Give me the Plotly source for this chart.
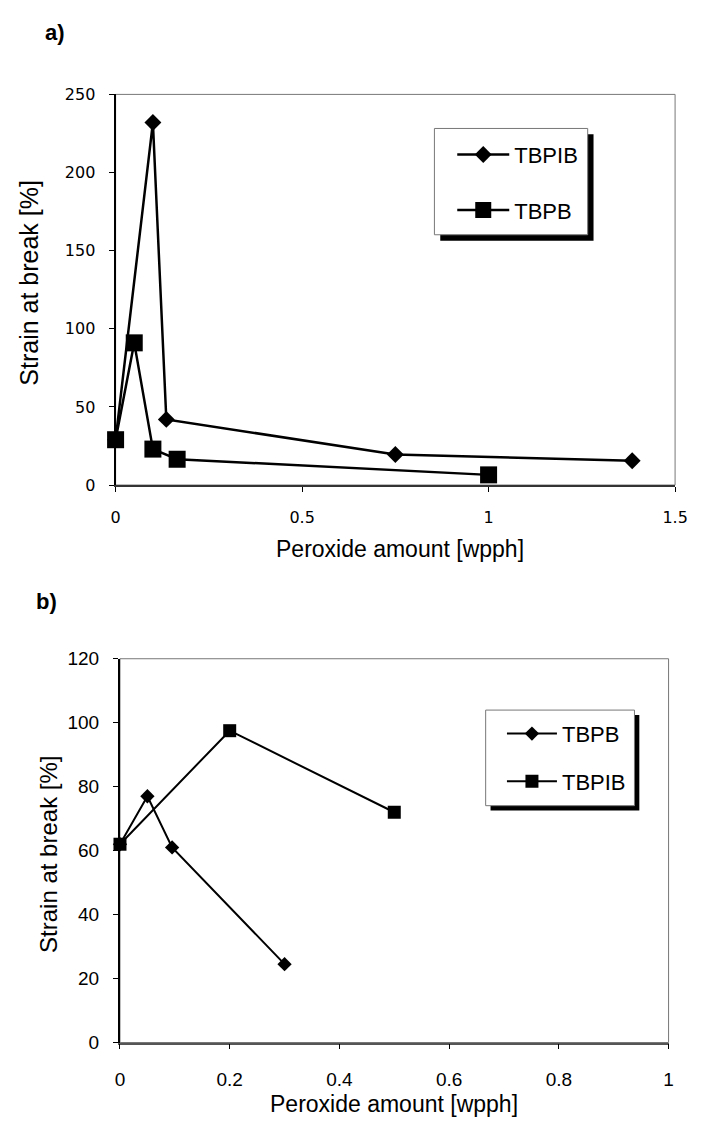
import plotly.graph_objects as go

# ---------------- data ----------------
# Panel a)
a_tbpib_x = [0, 0.1, 0.136, 0.75, 1.385]
a_tbpib_y = [29, 232, 42, 19.5, 15.5]
a_tbpb_x = [0, 0.05, 0.1, 0.165, 1.0]
a_tbpb_y = [29, 91, 23, 16.5, 6.5]

# Panel b)
b_tbpb_x = [0, 0.05, 0.095, 0.3]
b_tbpb_y = [62, 77, 61, 24.5]
b_tbpib_x = [0, 0.2, 0.5]
b_tbpib_y = [62, 97.5, 72]

a_xticks = [0, 0.5, 1, 1.5]
a_yticks = [0, 50, 100, 150, 200, 250]
b_xticks = [0, 0.2, 0.4, 0.6, 0.8, 1]
b_yticks = [0, 20, 40, 60, 80, 100, 120]

x_title = "Peroxide amount [wpph]"
y_title = "Strain at break [%]"

# ---------------- layout helpers ----------------
W, H = 703, 1133
def px(x):
    return x / W
def py(y):
    return 1 - y / H

SANS = "Liberation Sans, Arial, sans-serif"
VERD = "DejaVu Sans, Verdana, sans-serif"

fig = go.Figure()

fig.add_trace(go.Scatter(x=a_tbpib_x, y=a_tbpib_y, name="TBPIB", mode="lines+markers",
                         line=dict(color="black", width=2.5),
                         marker=dict(symbol="diamond", size=13, color="black"),
                         xaxis="x", yaxis="y", legend="legend", legendgroup="a1",
                         cliponaxis=False))
fig.add_trace(go.Scatter(x=a_tbpb_x, y=a_tbpb_y, name="TBPB", mode="lines+markers",
                         line=dict(color="black", width=2.5),
                         marker=dict(symbol="square", size=17, color="black"),
                         xaxis="x", yaxis="y", legend="legend", legendgroup="a2",
                         cliponaxis=False))
fig.add_trace(go.Scatter(x=b_tbpb_x, y=b_tbpb_y, name="TBPB", mode="lines+markers",
                         line=dict(color="black", width=2),
                         marker=dict(symbol="diamond", size=11, color="black"),
                         xaxis="x2", yaxis="y2", legend="legend2", legendgroup="b1",
                         cliponaxis=False))
fig.add_trace(go.Scatter(x=b_tbpib_x, y=b_tbpib_y, name="TBPIB", mode="lines+markers",
                         line=dict(color="black", width=2),
                         marker=dict(symbol="square", size=13, color="black"),
                         xaxis="x2", yaxis="y2", legend="legend2", legendgroup="b2",
                         cliponaxis=False))

axis_common = dict(showgrid=False, zeroline=False, showline=True, ticks="outside",
                   ticklen=5, tickwidth=1, tickcolor="black", fixedrange=True)

fig.update_layout(
    width=W, height=H,
    margin=dict(l=0, r=0, t=0, b=0),
    paper_bgcolor="white", plot_bgcolor="white",
    xaxis=dict(axis_common, domain=[px(113.5), px(687.7)], anchor="y",
               range=[0, 1.5], tickmode="array", tickvals=a_xticks,
               linecolor="#333", linewidth=2,
               tickfont=dict(family=VERD, size=16, color="black"),
               ticklabelstandoff=12),
    yaxis=dict(axis_common, domain=[py(484), py(86)], anchor="x",
               range=[0, 250], tickmode="array", tickvals=a_yticks,
               linecolor="black", linewidth=2,
               tickfont=dict(family=VERD, size=16, color="black"),
               ticklabelstandoff=10),
    xaxis2=dict(axis_common, domain=[px(118), px(681)], anchor="y2",
                range=[0, 1], tickmode="array", tickvals=b_xticks,
                linecolor="#555", linewidth=1.5,
                tickfont=dict(family=SANS, size=19, color="black"),
                ticklabelstandoff=14),
    yaxis2=dict(axis_common, domain=[py(1052), py(661)], anchor="x2",
                range=[0, 120], tickmode="array", tickvals=b_yticks,
                linecolor="black", linewidth=2,
                tickfont=dict(family=SANS, size=19, color="black"),
                ticklabelstandoff=10),
    legend=dict(x=px(459), y=py(126), xanchor="left", yanchor="top",
                bgcolor="rgba(0,0,0,0)", borderwidth=0,
                font=dict(family=SANS, size=22, color="black"),
                traceorder="grouped", tracegroupgap=24, itemwidth=52),
    legend2=dict(x=px(510), y=py(716), xanchor="left", yanchor="top",
                 bgcolor="rgba(0,0,0,0)", borderwidth=0,
                 font=dict(family=SANS, size=22, color="black"),
                 traceorder="grouped", tracegroupgap=16, itemwidth=50),
)

shapes = []
# plot-area frames (thin grey, top/right)
for xr, yr in (("x domain", "y domain"), ("x2 domain", "y2 domain")):
    shapes.append(dict(type="rect", xref=xr, yref=yr, x0=0, x1=1, y0=0, y1=1,
                       line=dict(color="#777", width=1), layer="below"))
# legend boxes with black drop shadow
for (x0, y0, x1, y1, off) in ((440.7, 120.7, 598, 229, 6), (493.3, 713.3, 646, 810.7, 5)):
    shapes.append(dict(type="rect", xref="paper", yref="paper",
                       x0=px(x0 + off), x1=px(x1 + off), y0=py(y1 + off), y1=py(y0 + off),
                       fillcolor="black", line=dict(width=0), layer="above"))
    shapes.append(dict(type="rect", xref="paper", yref="paper",
                       x0=px(x0), x1=px(x1), y0=py(y1), y1=py(y0),
                       fillcolor="white", line=dict(color="#777", width=1), layer="above"))
fig.update_layout(shapes=shapes)

def label(text, x, y, size, angle=0):
    return dict(text=text, x=px(x), y=py(y), xref="paper", yref="paper",
                xanchor="center", yanchor="middle", textangle=angle,
                showarrow=False, font=dict(family=SANS, size=size, color="black"))

ann = [
    label("<b>a)</b>", 51, 23, 22),
    label("<b>b)</b>", 43, 603, 22),
    label(x_title, 405.5, 549, 23),
    label(y_title, 24.5, 278, 25, -90),
    label(x_title, 399, 1115, 23),
    label(y_title, 44, 860, 24, -90),
]
fig.update_layout(annotations=ann)

fig.write_html("out.html")
